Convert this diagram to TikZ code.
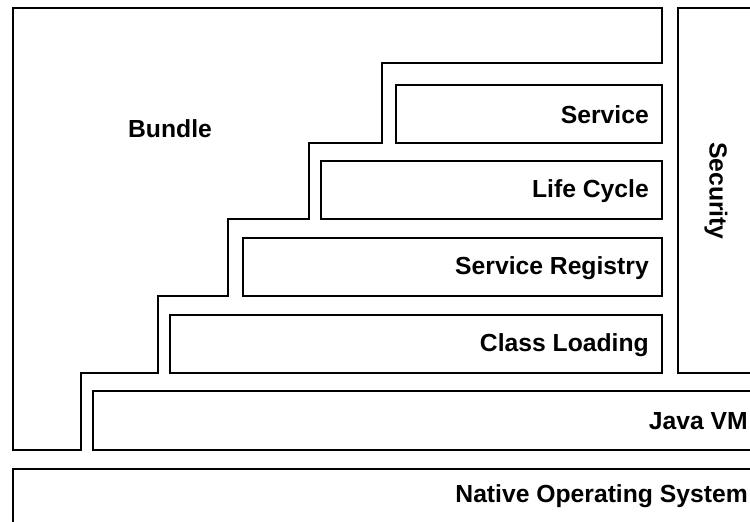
\documentclass[tikz,border=0pt]{standalone}
\usepackage{fontspec}
\setmainfont{Liberation Sans}
\begin{document}
\begin{tikzpicture}[x=1pt,y=-1pt,
  txt/.style={font=\fontsize{24.7}{28}\selectfont\bfseries, inner sep=0pt},
  layer/.style={draw=black, line width=1.8pt, fill=white, inner sep=0pt, outer sep=0pt, anchor=north west},
  lbl/.style={txt, anchor=east}]
\clip (0,0) rectangle (750,522);
\fill[white] (0,0) rectangle (750,522);
% Bundle staircase outline
\draw[line width=1.8pt, line join=miter] (13,8) -- (662,8) -- (662,63) -- (382,63) -- (382,143) -- (309,143) -- (309,219) -- (228,219) -- (228,296) -- (158,296) -- (158,373) -- (81,373) -- (81,450) -- (13,450) -- cycle;
\node[txt] (bundle) at (170,129) {Bundle};
% layers
\node[layer, minimum width=266pt, minimum height=58pt] (service) at (396,85) {};
\node[layer, minimum width=341pt, minimum height=58pt] (lifecycle) at (321,161) {};
\node[layer, minimum width=419pt, minimum height=58pt] (registry) at (243,238) {};
\node[layer, minimum width=492pt, minimum height=58pt] (classload) at (170,315) {};
\node[layer, minimum width=668pt, minimum height=59pt] (javavm) at (93,391) {};
\node[layer, minimum width=748pt, minimum height=80pt] (nativeos) at (13,469) {};
\node[layer, minimum width=83pt, minimum height=365pt] (security) at (678,8) {};
% labels
\node[lbl] (serviceL) at ([xshift=-13pt,yshift=-1pt]service.east) {Service};
\node[lbl] (lifecycleL) at ([xshift=-13pt,yshift=-1pt]lifecycle.east) {Life Cycle};
\node[lbl] (registryL) at ([xshift=-13pt,yshift=-1pt]registry.east) {Service Registry};
\node[lbl] (classloadL) at ([xshift=-13pt,yshift=-1pt]classload.east) {Class Loading};
\node[lbl] (javavmL) at ([xshift=-13pt,yshift=-1pt]javavm.east) {Java VM};
\node[lbl] (nativeosL) at (748,496) {Native Operating System};
\node[txt, rotate=-90] (securityL) at (716,191) {Security};
\end{tikzpicture}
\end{document}
